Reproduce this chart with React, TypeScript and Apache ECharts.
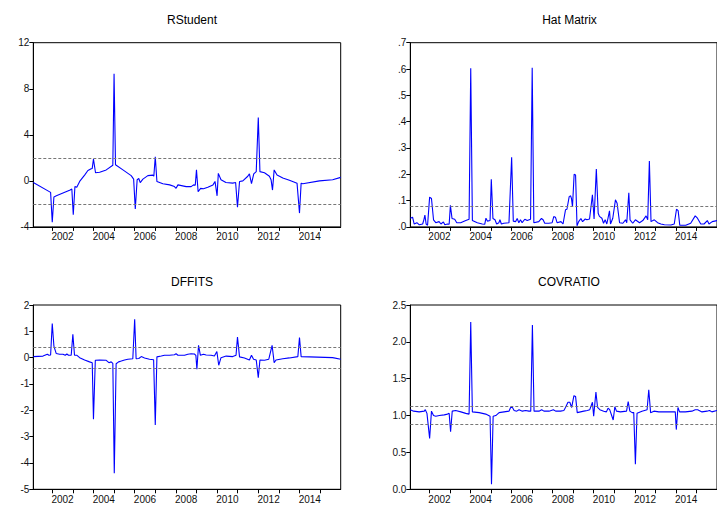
import * as echarts from 'echarts';
import { useEffect, useRef } from 'react';

const rstudent: [number, number][] = [
  [2001.08, -0.15], [2001.92, -1.0], [2002.0, -3.6], [2002.08, -1.4], [2002.2, -1.3],
  [2002.87, -0.8], [2002.95, -0.7], [2003.02, -2.95], [2003.1, -0.5], [2003.19, -0.55],
  [2003.33, -0.05], [2003.57, 0.5], [2003.73, 0.9], [2003.89, 1.05], [2003.94, 1.08],
  [2004.0, 1.9], [2004.1, 0.7], [2004.3, 0.75], [2004.62, 0.95], [2004.94, 1.35],
  [2005.0, 9.3], [2005.07, 1.4], [2005.43, 0.95], [2005.83, 0.45], [2005.95, 0.15],
  [2006.03, -2.45], [2006.12, 0.1], [2006.2, 0.2], [2006.27, -0.15], [2006.4, 0.15],
  [2006.64, 0.45], [2006.88, 0.5], [2006.93, 0.4], [2007.0, 2.1], [2007.08, -0.05],
  [2007.37, -0.25], [2007.7, -0.35], [2007.93, -0.5], [2008.01, -0.65], [2008.1, -0.35],
  [2008.5, -0.5], [2008.74, -0.5], [2008.86, -0.35], [2008.94, -0.38], [2009.0, 0.95],
  [2009.08, -0.95], [2009.2, -0.65], [2009.34, -0.68], [2009.55, -0.55], [2009.8, -0.35],
  [2009.9, -0.05], [2010.0, -1.3], [2010.06, 0.65], [2010.19, 0.1], [2010.43, -0.15],
  [2010.76, -0.2], [2010.9, -0.15], [2010.99, -2.3], [2011.09, -0.05], [2011.25, 0.0],
  [2011.49, 0.4], [2011.57, 0.6], [2011.67, -0.25], [2011.78, 0.6], [2011.9, 0.8],
  [2012.0, 5.5], [2012.08, 0.8], [2012.3, 0.7], [2012.54, 0.4], [2012.62, 0.1],
  [2012.69, -0.8], [2012.77, 0.95], [2012.91, 0.5], [2013.19, 0.25], [2013.51, 0.05],
  [2013.88, -0.2], [2014.0, -2.8], [2014.08, -0.2], [2014.16, -0.25], [2014.97, 0.0],
  [2015.61, 0.1], [2016.0, 0.3],
];

const hatMatrix: [number, number][] = [
  [2001.08, 0.033], [2001.19, 0.037], [2001.27, 0.011], [2001.4, 0.016], [2001.52, 0.008],
  [2001.68, 0.011], [2001.74, 0.027], [2001.79, 0.045], [2001.85, 0.011], [2001.92, 0.006],
  [2002.02, 0.113], [2002.11, 0.108], [2002.21, 0.027], [2002.32, 0.016], [2002.48, 0.02],
  [2002.57, 0.011], [2002.69, 0.019], [2002.76, 0.008], [2002.89, 0.011], [2002.97, 0.01],
  [2003.03, 0.082], [2003.11, 0.032], [2003.24, 0.029], [2003.34, 0.016], [2003.53, 0.016],
  [2003.78, 0.024], [2003.94, 0.029], [2004.02, 0.603], [2004.1, 0.024], [2004.34, 0.016],
  [2004.58, 0.011], [2004.7, 0.01], [2004.76, 0.033], [2004.83, 0.022], [2004.96, 0.024],
  [2005.02, 0.181], [2005.1, 0.032], [2005.2, 0.027], [2005.28, 0.011], [2005.39, 0.016],
  [2005.44, 0.027], [2005.51, 0.011], [2005.63, 0.014], [2005.88, 0.016], [2006.01, 0.265],
  [2006.09, 0.022], [2006.2, 0.02], [2006.28, 0.032], [2006.36, 0.016], [2006.44, 0.027],
  [2006.52, 0.016], [2006.65, 0.029], [2006.77, 0.024], [2006.93, 0.029], [2007.01, 0.605],
  [2007.09, 0.016], [2007.33, 0.02], [2007.46, 0.032], [2007.54, 0.027], [2007.62, 0.014],
  [2007.82, 0.014], [2007.98, 0.016], [2008.06, 0.039], [2008.14, 0.037], [2008.22, 0.016],
  [2008.41, 0.02], [2008.51, 0.011], [2008.63, 0.065], [2008.7, 0.067], [2008.81, 0.115],
  [2008.88, 0.118], [2008.92, 0.108], [2008.97, 0.077], [2009.05, 0.2], [2009.12, 0.197],
  [2009.19, 0.004], [2009.27, 0.02], [2009.38, 0.032], [2009.46, 0.02], [2009.59, 0.03],
  [2009.67, 0.027], [2009.8, 0.03], [2009.94, 0.122], [2010.02, 0.03], [2010.13, 0.22],
  [2010.22, 0.052], [2010.28, 0.04], [2010.4, 0.033], [2010.48, 0.014], [2010.56, 0.027],
  [2010.64, 0.011], [2010.77, 0.061], [2010.82, 0.011], [2010.93, 0.033], [2011.06, 0.103],
  [2011.14, 0.09], [2011.26, 0.016], [2011.42, 0.014], [2011.55, 0.027], [2011.61, 0.016],
  [2011.71, 0.13], [2011.77, 0.027], [2011.9, 0.014], [2012.03, 0.027], [2012.23, 0.016],
  [2012.39, 0.024], [2012.55, 0.042], [2012.63, 0.027], [2012.71, 0.25], [2012.79, 0.02],
  [2012.95, 0.027], [2013.11, 0.016], [2013.27, 0.011], [2013.44, 0.008], [2013.76, 0.007],
  [2013.92, 0.011], [2014.03, 0.067], [2014.11, 0.062], [2014.19, 0.006], [2014.48, 0.006],
  [2014.72, 0.014], [2014.94, 0.042], [2015.05, 0.033], [2015.21, 0.011], [2015.37, 0.011],
  [2015.53, 0.024], [2015.61, 0.011], [2015.77, 0.02], [2016.0, 0.024],
];

const dffits: [number, number][] = [
  [2001.08, 0.04], [2001.55, 0.06], [2001.76, 0.13], [2001.84, 0.09], [2001.92, 0.1],
  [2002.0, 1.3], [2002.08, 0.44], [2002.19, 0.16], [2002.36, 0.13], [2002.52, 0.13],
  [2002.63, 0.09], [2002.71, 0.14], [2002.79, 0.09], [2002.92, 0.09], [2003.0, 0.89],
  [2003.08, 0.09], [2003.2, 0.09], [2003.33, 0.0], [2003.57, -0.09], [2003.81, -0.16],
  [2003.94, -0.19], [2004.0, -2.34], [2004.09, -0.1], [2004.3, -0.09], [2004.62, -0.1],
  [2004.75, -0.19], [2004.86, -0.16], [2004.94, -0.22], [2005.01, -4.39], [2005.1, -0.23],
  [2005.22, -0.16], [2005.35, -0.13], [2005.51, -0.09], [2005.67, -0.06], [2005.91, -0.04],
  [2006.0, 1.46], [2006.07, -0.04], [2006.2, -0.03], [2006.32, 0.04], [2006.48, -0.01],
  [2006.72, -0.06], [2006.92, -0.08], [2007.0, -2.56], [2007.08, 0.03], [2007.29, 0.06],
  [2007.45, 0.09], [2007.69, 0.09], [2007.93, 0.11], [2008.01, 0.15], [2008.1, 0.09],
  [2008.42, 0.09], [2008.58, 0.13], [2008.74, 0.15], [2008.9, 0.14], [2008.97, 0.09],
  [2009.02, -0.44], [2009.1, 0.47], [2009.19, 0.09], [2009.34, 0.13], [2009.47, 0.1],
  [2009.71, 0.09], [2009.87, 0.06], [2009.99, 0.23], [2010.08, -0.29], [2010.19, 0.0],
  [2010.44, 0.06], [2010.76, 0.04], [2010.92, 0.09], [2010.99, 0.78], [2011.09, 0.03],
  [2011.33, -0.01], [2011.57, -0.09], [2011.67, 0.09], [2011.77, -0.06], [2011.9, -0.09],
  [2012.0, -0.76], [2012.08, -0.09], [2012.3, -0.1], [2012.51, -0.06], [2012.67, 0.47],
  [2012.77, -0.19], [2012.86, -0.09], [2013.19, -0.04], [2013.51, -0.01], [2013.92, 0.04],
  [2014.0, 0.76], [2014.08, 0.04], [2014.48, 0.03], [2015.61, 0.0], [2016.0, -0.06],
];

const covratio: [number, number][] = [
  [2001.08, 1.08], [2001.24, 1.06], [2001.51, 1.05], [2001.76, 1.06], [2001.81, 1.08],
  [2001.89, 1.03], [2002.02, 0.69], [2002.11, 1.06], [2002.21, 1.0], [2002.32, 0.99],
  [2002.49, 1.0], [2002.73, 1.01], [2002.89, 1.02], [2002.97, 1.03], [2003.04, 0.78],
  [2003.12, 1.06], [2003.29, 1.07], [2003.54, 1.05], [2003.78, 1.03], [2003.94, 1.02],
  [2004.02, 2.27], [2004.1, 1.05], [2004.43, 1.04], [2004.75, 1.02], [2004.96, 0.99],
  [2005.03, 0.07], [2005.11, 0.99], [2005.24, 1.0], [2005.4, 1.04], [2005.64, 1.05],
  [2005.88, 1.06], [2005.96, 1.11], [2006.05, 1.11], [2006.13, 1.07], [2006.26, 1.06],
  [2006.37, 1.08], [2006.53, 1.06], [2006.69, 1.07], [2006.85, 1.06], [2006.94, 1.06],
  [2007.02, 2.23], [2007.1, 1.06], [2007.34, 1.06], [2007.47, 1.08], [2007.58, 1.06],
  [2007.83, 1.06], [2008.04, 1.08], [2008.15, 1.06], [2008.39, 1.06], [2008.55, 1.07],
  [2008.63, 1.11], [2008.75, 1.18], [2008.84, 1.18], [2008.93, 1.11], [2009.04, 1.27],
  [2009.12, 1.26], [2009.2, 1.04], [2009.36, 1.05], [2009.52, 1.06], [2009.69, 1.07],
  [2009.81, 1.08], [2009.94, 1.18], [2010.0, 0.99], [2010.11, 1.32], [2010.19, 1.11],
  [2010.3, 1.08], [2010.49, 1.06], [2010.62, 1.05], [2010.7, 1.1], [2010.78, 1.08],
  [2010.95, 0.94], [2011.03, 1.12], [2011.11, 1.06], [2011.3, 1.05], [2011.6, 1.06],
  [2011.68, 1.19], [2011.76, 1.06], [2011.87, 1.04], [2011.95, 1.04], [2012.03, 0.34],
  [2012.11, 1.03], [2012.35, 1.06], [2012.6, 1.08], [2012.68, 1.35], [2012.77, 1.04],
  [2012.93, 1.06], [2013.17, 1.05], [2013.97, 1.05], [2014.02, 0.81], [2014.1, 1.11],
  [2014.18, 1.05], [2014.46, 1.05], [2014.78, 1.06], [2014.94, 1.08], [2015.06, 1.08],
  [2015.27, 1.05], [2015.51, 1.06], [2015.64, 1.07], [2015.75, 1.05], [2016.0, 1.07],
];

const titles = ['RStudent', 'Hat Matrix', 'DFFITS', 'COVRATIO'];
const cutoffs = [[2, -2], [0.079], [0.397, -0.397], [1.119, 0.881]];
const yRanges = [
  { min: -4, max: 12, interval: 4 },
  { min: 0, max: 0.7, interval: 0.1 },
  { min: -5, max: 2, interval: 1 },
  { min: 0, max: 2.5, interval: 0.5 },
];
const tickYears = [2002, 2003, 2004, 2005, 2006, 2007, 2008, 2009, 2010, 2011, 2012, 2013, 2014, 2015];
const labelYears = [2002, 2004, 2006, 2008, 2010, 2012, 2014];

const FONT = '"Liberation Sans", Arial, sans-serif';

export default function App() {
  const chartRef = useRef<HTMLDivElement>(null);

  useEffect(() => {
    document.body.style.margin = '0';
    if (!chartRef.current) return;
    const chart = echarts.init(chartRef.current, null, { renderer: 'svg' });

    const grids = [
      { left: 33.3, top: 42.7, width: 307.4, height: 184.2 },
      { left: 410.3, top: 42.7, width: 307.6, height: 184.2 },
      { left: 33.3, top: 305, width: 307.4, height: 184.3 },
      { left: 410.3, top: 305, width: 307.6, height: 184.3 },
    ];
    const titlePos = [
      { x: 187, y: 9 },
      { x: 564.5, y: 9 },
      { x: 187, y: 271 },
      { x: 564, y: 271 },
    ];
    const yFormat = [
      (v: number) => String(Math.round(v)),
      (v: number) => v.toFixed(1).replace(/^0/, ''),
      (v: number) => String(Math.round(v)),
      (v: number) => v.toFixed(1),
    ];
    const allData = [rstudent, hatMatrix, dffits, covratio];

    chart.setOption({
      animation: false,
      backgroundColor: '#fff',
      title: titles.map((t, i) => ({
        text: t,
        left: titlePos[i].x,
        top: titlePos[i].y,
        textAlign: 'center',
        textStyle: { fontFamily: FONT, fontSize: 12, fontWeight: 'normal', color: '#000' },
      })),
      grid: grids.map(g => ({
        ...g,
        show: true,
        borderColor: '#000',
        borderWidth: 1,
        backgroundColor: 'transparent',
      })),
      xAxis: grids.map((_, i) => ({
        type: 'value',
        gridIndex: i,
        min: 2001.08,
        max: 2016,
        axisLine: { show: true, onZero: false, lineStyle: { color: '#000', width: 1 } },
        axisTick: {
          show: true,
          length: 4,
          customValues: tickYears,
          lineStyle: { color: '#000' },
        },
        axisLabel: {
          customValues: labelYears.map(y => y + 0.5),
          formatter: (v: number) => String(Math.floor(v)),
          fontFamily: FONT,
          fontSize: 10,
          color: '#111',
          margin: 5,
        },
        splitLine: { show: false },
      })),
      yAxis: grids.map((_, i) => ({
        type: 'value',
        gridIndex: i,
        ...yRanges[i],
        axisLine: { show: true, onZero: false, lineStyle: { color: '#000', width: 1 } },
        axisTick: { show: true, length: 4, lineStyle: { color: '#000' } },
        axisLabel: {
          formatter: yFormat[i],
          fontFamily: FONT,
          fontSize: 10,
          color: '#111',
          margin: 4,
        },
        splitLine: { show: false },
      })),
      series: allData.map((d, i) => ({
        type: 'line',
        xAxisIndex: i,
        yAxisIndex: i,
        data: d,
        showSymbol: false,
        lineStyle: { color: '#0000ff', width: 1.1 },
        markLine: {
          silent: true,
          symbol: ['none', 'none'],
          label: { show: false },
          lineStyle: { color: '#777', type: [3, 2], width: 1 },
          data: cutoffs[i].map(c => ({ yAxis: c })),
        },
      })),
    });

    return () => {
      chart.dispose();
    };
  }, []);

  return <div ref={chartRef} style={{ width: 717, height: 512 }} />;
}
